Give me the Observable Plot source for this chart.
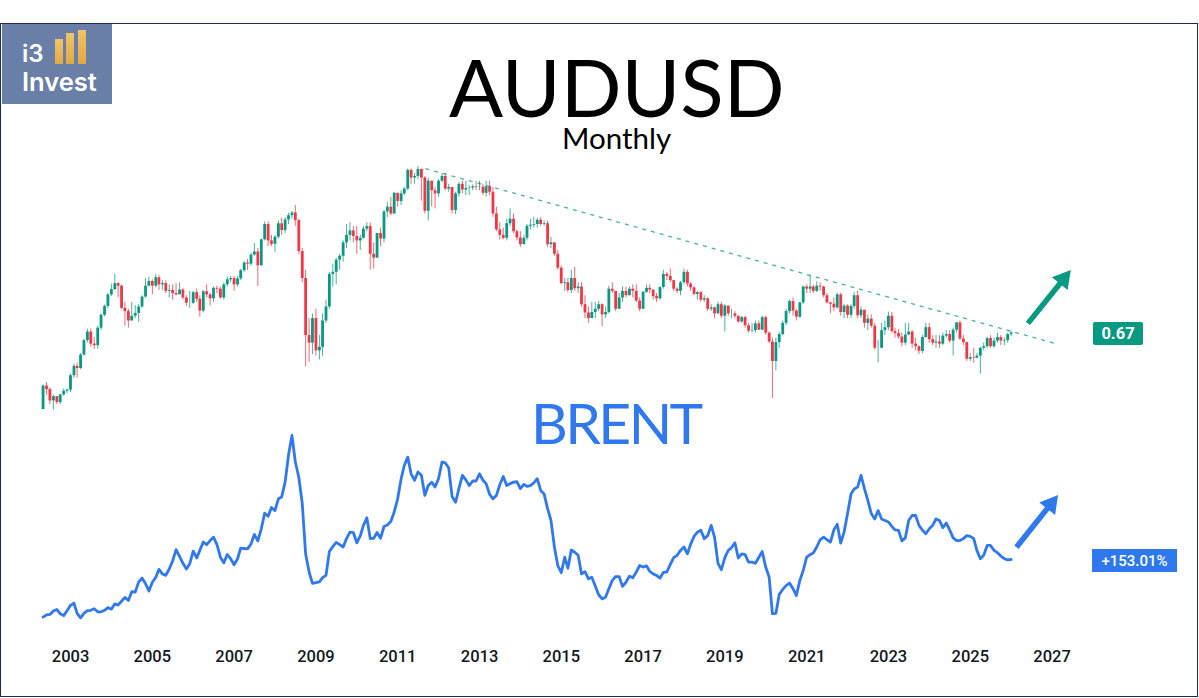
<!DOCTYPE html>
<html>
<head>
<meta charset="utf-8">
<script src="https://cdn.jsdelivr.net/npm/d3@7"></script>
<script src="https://cdn.jsdelivr.net/npm/@observablehq/plot@0.6"></script>
<style>
html,body{margin:0;padding:0;background:#fff;overflow:hidden;width:1199px;height:698px}
#page{position:relative;width:1199px;height:698px;font-family:"Liberation Sans",sans-serif}
#frame{position:absolute;left:0;top:23px;width:1196px;height:672px;border:1.5px solid #1b2b52;pointer-events:none}
#charts{position:absolute;left:0;top:0}
#charts svg{display:block;overflow:visible;background:transparent;max-width:none}
.t{position:absolute;white-space:nowrap;line-height:1}
#logo{position:absolute;left:2px;top:24px;width:110px;height:80px;background:#6a7fa7}
.bar{position:absolute;bottom:40px;width:8px;background:linear-gradient(#f0c468,#e2a943)}
.badge{position:absolute;color:#fff;font-family:Roboto,sans-serif;font-weight:500;text-align:center}
</style>
</head>
<body>
<div id="page">
  <div id="charts"></div>
  <div id="frame"></div>
  <div id="logo">
    <div class="bar" style="left:53px;height:25px"></div>
    <div class="bar" style="left:64px;height:31px"></div>
    <div class="bar" style="left:76px;height:34px"></div>
    <div class="t" style="left:20px;top:15px;color:#fff;font:600 24px Inter,sans-serif">i3</div>
    <div class="t" style="left:20px;top:42px;color:#fff;font:600 25.5px Inter,sans-serif">Invest</div>
  </div>
  <div class="t" id="title" style="left:449px;top:38px;font:400 80px Lato,sans-serif;color:#000">AUDUSD</div>
  <div class="t" style="left:562px;top:120px;font:400 29.5px Lato,sans-serif;color:#000">Monthly</div>
  <div class="t" style="left:531px;top:388px;font:400 57px Lato,sans-serif;color:#2f78ee;letter-spacing:-2.6px">BRENT</div>
  <div class="badge" style="left:1093px;top:322px;width:50px;height:23px;line-height:24px;background:#089981;border-radius:2px;font-size:16.5px;font-weight:700">0.67</div>
  <div class="badge" style="left:1092px;top:549px;width:85px;height:23px;line-height:24px;background:#2f78ee;font-size:15px">+153.01%</div>
</div>
<script>
// ---- AUDUSD monthly candles, May 2002 to Jan 2026 ----
const firstOpen = 0.532;
const closes = [
 .571,.565,.546,.553,.543,.556,.562,.564,
 .589,.606,.602,.627,.655,.672,.648,.645,.680,.707,.726,.752,
 .764,.778,.772,.722,.715,.695,.705,.711,.725,.747,.772,.783,
 .772,.792,.775,.778,.760,.762,.755,.752,.763,.745,.733,.733,
 .757,.742,.716,.759,.752,.743,.767,.765,.745,.775,.787,.790,
 .775,.789,.809,.828,.825,.848,.856,.821,.888,.930,.885,.876,
 .895,.932,.913,.943,.955,.963,.941,.857,.790,.665,.650,.700,
 .635,.642,.695,.725,.800,.805,.835,.845,.880,.900,.912,.897,
 .885,.892,.917,.924,.850,.840,.905,.890,.966,.980,.960,1.022,
 .997,1.020,1.035,1.095,1.070,1.075,1.098,1.070,.968,1.060,1.030,1.020,
 1.060,1.075,1.035,1.040,.970,1.020,1.050,1.032,1.037,1.038,1.042,1.040,
 1.041,1.022,1.042,1.025,.960,.915,.900,.892,.932,.945,.910,.893,
 .875,.892,.925,.928,.930,.942,.930,.932,.875,.880,.850,.815,
 .778,.780,.762,.790,.766,.770,.730,.712,.700,.713,.720,.730,
 .708,.713,.765,.760,.720,.745,.760,.750,.765,.760,.738,.720,
 .758,.767,.763,.748,.743,.769,.800,.795,.785,.765,.760,.780,
 .805,.777,.768,.753,.757,.740,.743,.720,.723,.710,.730,.705,
 .727,.710,.710,.705,.693,.702,.685,.674,.675,.689,.676,.702,
 .670,.652,.615,.651,.667,.690,.715,.737,.716,.703,.734,.770,
 .765,.770,.760,.772,.770,.750,.734,.731,.723,.752,.713,.727,
 .707,.726,.750,.706,.718,.690,.699,.684,.640,.640,.675,.681,
 .705,.673,.669,.662,.650,.666,.672,.648,.643,.634,.661,.681,
 .657,.650,.652,.648,.664,.667,.654,.676,.691,.658,.651,.619,
 .622,.621,.625,.640,.643,.659,.643,.654,.661,.654,.655,.667,
 .670];
const highs = [
 .573,.577,.568,.556,.553,.557,.566,.566,
 .592,.610,.612,.630,.658,.678,.678,.661,.684,.710,.729,.755,
 .777,.800,.781,.775,.735,.720,.735,.728,.730,.750,.790,.793,
 .787,.800,.797,.785,.785,.775,.775,.778,.780,.767,.750,.760,
 .760,.765,.750,.762,.775,.755,.770,.772,.770,.780,.794,.795,
 .795,.795,.812,.832,.837,.853,.878,.865,.890,.937,.937,.900,
 .900,.940,.948,.950,.962,.967,.985,.945,.865,.810,.700,.710,
 .720,.665,.710,.740,.805,.825,.840,.850,.885,.930,.935,.925,
 .925,.900,.925,.935,.935,.880,.905,.920,.970,.995,1.010,1.025,
 1.020,1.030,1.040,1.100,1.100,1.085,1.108,1.100,1.075,1.070,1.050,1.040,
 1.065,1.085,1.085,1.050,1.040,1.025,1.055,1.060,1.060,1.045,1.048,1.060,
 1.060,1.050,1.060,1.060,1.040,.980,.935,.920,.945,.975,.960,.915,
 .910,.900,.930,.945,.950,.948,.950,.940,.940,.895,.875,.860,
 .820,.790,.790,.810,.817,.780,.780,.750,.725,.735,.735,.737,
 .732,.725,.772,.780,.760,.755,.770,.770,.770,.775,.775,.745,
 .760,.775,.775,.760,.755,.770,.810,.805,.813,.785,.768,.783,
 .813,.810,.780,.770,.760,.760,.750,.745,.730,.725,.735,.735,
 .730,.725,.720,.715,.705,.705,.705,.690,.690,.695,.695,.705,
 .705,.672,.660,.660,.672,.695,.720,.740,.745,.720,.735,.772,
 .775,.797,.775,.782,.780,.772,.755,.735,.745,.756,.756,.730,
 .730,.730,.757,.760,.725,.715,.708,.708,.690,.655,.690,.695,
 .714,.713,.680,.677,.670,.690,.690,.675,.660,.645,.665,.690,
 .690,.665,.665,.665,.670,.675,.675,.680,.692,.695,.665,.652,
 .630,.640,.630,.642,.650,.662,.665,.660,.670,.665,.660,.670,
 .674];
const lows = [
 .532,.555,.540,.531,.540,.540,.554,.558,
 .560,.585,.585,.600,.625,.650,.642,.638,.638,.675,.704,.722,
 .748,.762,.745,.720,.684,.680,.695,.700,.692,.722,.745,.770,
 .752,.768,.762,.763,.755,.745,.740,.750,.755,.740,.726,.722,
 .730,.735,.703,.712,.745,.727,.735,.755,.742,.740,.770,.780,
 .760,.770,.785,.805,.810,.820,.845,.771,.820,.885,.870,.870,
 .855,.890,.900,.905,.930,.945,.925,.850,.780,.605,.613,.628,
 .625,.618,.625,.690,.720,.770,.775,.810,.830,.865,.885,.880,
 .850,.860,.890,.910,.810,.813,.845,.870,.880,.950,.955,.960,
 .980,.985,1.015,1.030,1.050,1.050,1.065,.998,.960,.940,.980,.975,
 1.010,1.055,1.030,1.025,.960,.958,1.010,1.020,1.015,1.015,1.030,1.030,
 1.030,1.015,1.010,1.015,.950,.910,.887,.888,.885,.925,.905,.885,
 .868,.875,.885,.915,.920,.920,.925,.925,.868,.865,.845,.810,
 .775,.760,.757,.755,.760,.755,.725,.700,.690,.700,.700,.715,
 .683,.700,.710,.755,.715,.720,.735,.745,.750,.745,.735,.715,
 .720,.755,.755,.740,.735,.740,.765,.785,.780,.760,.755,.750,
 .775,.770,.760,.750,.740,.735,.735,.715,.715,.700,.710,.700,
 .672,.705,.700,.700,.690,.690,.680,.670,.670,.670,.675,.675,
 .665,.650,.550,.598,.640,.665,.685,.710,.705,.695,.700,.730,
 .755,.755,.755,.757,.760,.745,.732,.710,.715,.720,.705,.700,
 .700,.700,.720,.700,.700,.680,.675,.680,.636,.613,.640,.665,
 .675,.670,.660,.658,.643,.645,.665,.640,.635,.628,.630,.660,
 .650,.645,.640,.640,.645,.660,.650,.625,.670,.655,.645,.615,
 .615,.612,.620,.592,.635,.640,.640,.640,.650,.645,.645,.650,
 .663];
// ---- Brent, % change since the start of the line ----
const brent = [
 1,7,8,17,21,10,5,18,
 32,38,11,-1,11,18,19,23,15,15,19,26,
 22,36,33,43,53,45,68,67,94,104,89,70,
 93,106,127,115,111,128,149,179,161,143,128,142,
 175,157,177,199,192,203,212,192,159,144,166,155,
 139,155,183,182,181,194,219,202,234,275,267,290,
 282,313,318,357,428,480,410,370,300,168,120,90,
 92,94,105,111,174,187,198,192,186,208,225,224,
 197,215,243,263,208,209,224,209,240,244,253,278,
 313,366,401,423,379,362,384,375,322,348,357,344,
 366,410,408,394,319,304,340,375,363,348,360,360,
 379,362,353,325,313,322,350,372,348,353,357,358,
 340,351,346,348,355,366,335,326,287,256,186,137,
 118,159,130,178,172,164,115,121,102,106,83,60,
 49,54,76,98,108,108,82,93,109,105,120,137,
 133,136,122,115,111,104,119,120,140,158,164,177,
 186,168,193,214,225,230,208,216,243,212,143,126,
 158,177,184,197,157,168,166,146,146,143,159,174,
 133,106,10,11,61,74,84,91,76,58,98,124,
 159,166,170,186,205,212,205,199,231,246,196,225,
 274,326,339,344,375,340,309,274,260,282,260,256,
 252,240,231,230,202,210,256,269,269,243,230,221,
 234,243,260,256,237,249,231,210,203,203,208,216,
 214,208,177,155,164,190,190,177,171,162,155,152,
 153.01];
const tickYears = [2003,2005,2007,2009,2011,2013,2015,2017,2019,2021,2023,2025,2027];
const trendYears = [2011.68,2027.05], trendPrices = [1.101,0.650];
const audArrowYears = [2026.41,2027.28], audArrowPrices = [0.690,0.7885], audArrowAngle = 39;
const brentArrowYears = [2026.13,2026.97], brentArrowPct = [185.5,299], brentArrowAngle = 38.4;

const yearDate = y => new Date(Date.UTC(Math.floor(y),0,1) + (y-Math.floor(y))*365.25*864e5);
const candles = closes.map((c,i)=>({
  date:new Date(Date.UTC(2002,4+i,1)), open:i?closes[i-1]:firstOpen, close:c, high:highs[i], low:lows[i],
  up:c>=(i?closes[i-1]:firstOpen)
}));
const brentRows = brent.map((v,i)=>({date:candles[i].date,pct:v}));
const GREEN="#089981", RED="#f23645", BLUE="#2f78ee";
const xScale = {type:"utc",domain:[yearDate(2003),yearDate(2027)],range:[70,1051.5]};

const topPlot = Plot.plot({
  width:1199,height:412,margin:0,style:{background:"transparent"},
  x:{...xScale,axis:null},
  y:{type:"log",domain:[1.108,0.531],range:[166,409.6],axis:null},
  color:{domain:[true,false],range:[GREEN,RED]},
  marks:[
    Plot.ruleX(candles,{x:"date",y1:"low",y2:"high",stroke:"up",strokeWidth:1,strokeOpacity:0.75}),
    Plot.ruleX(candles,{x:"date",y1:"open",y2:"close",stroke:"up",strokeWidth:2.8}),
    Plot.link([0],{x1:()=>yearDate(trendYears[0]),x2:()=>yearDate(trendYears[1]),y1:()=>trendPrices[0],y2:()=>trendPrices[1],
      stroke:GREEN,strokeOpacity:0.75,strokeWidth:1.3,strokeDasharray:"4,5"}),
    Plot.link([0],{x1:()=>yearDate(audArrowYears[0]),x2:()=>yearDate(audArrowYears[1]),y1:()=>audArrowPrices[0],y2:()=>audArrowPrices[1],
      stroke:GREEN,strokeWidth:5.5}),
    Plot.dot([0],{x:()=>yearDate(audArrowYears[1]),y:()=>audArrowPrices[1],symbol:"triangle",r:7.5,fill:GREEN,stroke:"none",rotate:audArrowAngle})
  ]
});

const bottomPlot = Plot.plot({
  width:1199,height:286,margin:0,style:{background:"transparent"},
  x:{...xScale,axis:null},
  y:{domain:[0,480],range:[205,23],axis:null},
  marks:[
    Plot.line(brentRows,{x:"date",y:"pct",stroke:BLUE,strokeWidth:2.8,strokeLinejoin:"round",curve:"linear"}),
    Plot.link([0],{x1:()=>yearDate(brentArrowYears[0]),x2:()=>yearDate(brentArrowYears[1]),y1:()=>brentArrowPct[0],y2:()=>brentArrowPct[1],
      stroke:BLUE,strokeWidth:5.5}),
    Plot.dot([0],{x:()=>yearDate(brentArrowYears[1]),y:()=>brentArrowPct[1],symbol:"triangle",r:7.5,fill:BLUE,stroke:"none",rotate:brentArrowAngle}),
    Plot.axisX({ticks:tickYears.map(yearDate),tickSize:0,tickPadding:0,tickFormat:d=>String(d.getUTCFullYear()),
      anchor:"bottom",fontSize:16.5,fontWeight:500,fontFamily:"Roboto",fill:"#131722",label:null,dy:-48})
  ]
});
document.getElementById("charts").append(topPlot,bottomPlot);
</script>
</body>
</html>
